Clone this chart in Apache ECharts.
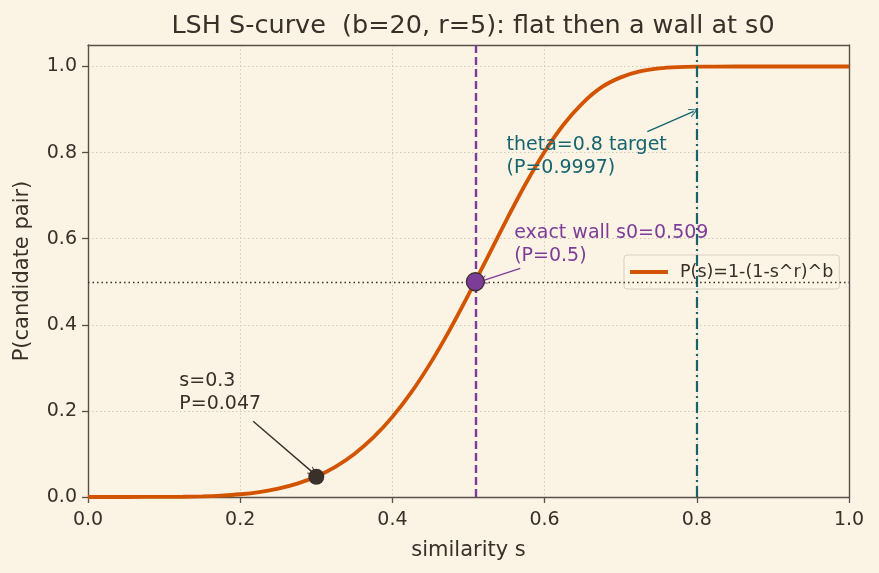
<!DOCTYPE html>
<html><head><meta charset="utf-8">
<script src="https://cdn.jsdelivr.net/npm/echarts@6/dist/echarts.min.js"></script>
<style>html,body{margin:0;padding:0;background:#fbf3e4;}#c{width:879px;height:573px;}</style>
</head><body><div id="c"></div>
<script>
// similarity s values and the curve P(s)
const sVals = [0,0.05,0.1,0.125,0.15,0.175,0.2,0.225,0.25,0.275,0.3,0.325,0.35,0.375,0.4,0.425,0.45,0.475,0.5,0.525,0.55,0.575,0.6,0.625,0.65,0.675,0.7,0.725,0.75,0.775,0.8,0.85,0.9,0.95,1.0];
const pVals = [0,0.00001,0.0002,0.0006,0.0015,0.0033,0.0064,0.0115,0.0194,0.031,0.0475,0.0701,0.1,0.1383,0.1861,0.2436,0.311,0.3871,0.4701,0.5569,0.644,0.727,0.8019,0.8653,0.9152,0.9521,0.9748,0.9886,0.9956,0.9986,0.9996,1.0,1.0,1.0,1.0];
const xTicks = [0,0.2,0.4,0.6,0.8,1.0];
const yTicks = [0,0.2,0.4,0.6,0.8,1.0];
const wallS = 0.509, wallP = 0.5;
const thetaS = 0.8;
const sampleS = 0.3, sampleP = 0.047;
const legendName = 'P(s)=1-(1-s^r)^b';

const F = 'DejaVu Sans';
const TXT = '#3a3028';
const ORANGE = '#d35400';
const PURPLE = '#7d3c98';
const TEAL = '#16646e';
const FRAME = '#5a5048';
const GRIDC = '#d3cab9';
const CHEVRON = 'path://M5,0 L10,10 L8.8,10 L5,2.4 L1.2,10 L0,10 Z';

const curve = sVals.map((s,i)=>[s,pVals[i]]);
const chart = echarts.init(document.getElementById('c'));

function arrowLine(from,to,color){
  return [{coord:from, lineStyle:{color:color,width:1.4,type:'solid'},itemStyle:{color:color}},{coord:to}];
}
const tickFmt = (arr)=>v=>arr.some(t=>Math.abs(t-v)<1e-9)?v.toFixed(1):'';

chart.setOption({
  backgroundColor:'#fbf3e4',
  animation:false,
  title:{text:'LSH S-curve  (b=20, r=5): flat then a wall at s0',left:468,textAlign:'center',top:8,
    textStyle:{fontFamily:F,fontSize:25.5,fontWeight:'normal',color:TXT}},
  grid:{left:88,right:30,top:45,bottom:76},
  legend:{data:[{name:legendName,icon:'rect'}],left:624,top:255,orient:'vertical',
    backgroundColor:'rgba(251,243,228,0.85)',borderColor:'#d8cfc0',borderWidth:1,borderRadius:3,
    padding:[8,6,8,6],itemWidth:38,itemHeight:4,itemGap:4,
    itemStyle:{color:ORANGE},
    textStyle:{fontFamily:F,fontSize:17.5,color:TXT,padding:[0,0,0,7]}},
  xAxis:[{type:'value',min:0,max:1,interval:0.2,position:'bottom',
    name:'similarity s',nameLocation:'middle',nameGap:43,
    nameTextStyle:{fontFamily:F,fontSize:21,color:TXT},
    axisLine:{show:true,lineStyle:{color:FRAME,width:1.4}},
    axisTick:{show:true,length:6,lineStyle:{color:FRAME,width:1.3}},
    axisLabel:{fontFamily:F,fontSize:19,color:TXT,margin:14,formatter:tickFmt(xTicks)},
    splitLine:{show:true,lineStyle:{color:GRIDC,type:[1.5,2.5],width:1}}},
   {type:'value',min:0,max:1,position:'top',
    axisLine:{show:true,onZero:false,lineStyle:{color:FRAME,width:1.4}},
    axisTick:{show:false},axisLabel:{show:false},splitLine:{show:false}}],
  yAxis:[{type:'value',min:0,max:1.05,interval:0.2,position:'left',
    name:'P(candidate pair)',nameLocation:'middle',nameGap:55,
    nameTextStyle:{fontFamily:F,fontSize:21,color:TXT},
    axisLine:{show:true,onZero:false,lineStyle:{color:FRAME,width:1.4}},
    axisTick:{show:true,length:6,lineStyle:{color:FRAME,width:1.3}},
    axisLabel:{fontFamily:F,fontSize:19,color:TXT,margin:11,showMaxLabel:false,formatter:tickFmt(yTicks)},
    splitLine:{show:true,lineStyle:{color:GRIDC,type:[1.5,2.5],width:1}}},
   {type:'value',min:0,max:1.05,position:'right',
    axisLine:{show:true,onZero:false,lineStyle:{color:FRAME,width:1.4}},
    axisTick:{show:false},axisLabel:{show:false},splitLine:{show:false}}],
  series:[
    {type:'line',name:'refs',data:[],silent:true,z:1,
      markLine:{silent:true,symbol:'none',label:{show:false},animation:false,
        data:[
          {xAxis:wallS,lineStyle:{color:PURPLE,type:[8,4],width:2.4}},
          {xAxis:thetaS,lineStyle:{color:TEAL,type:[11,4,2,4],width:2.2}},
          {yAxis:wallP,lineStyle:{color:TXT,type:[1.5,3],width:1.3}}
        ]}},
    {type:'line',name:legendName,data:curve,smooth:0.3,showSymbol:false,symbol:'none',z:3,
      lineStyle:{color:ORANGE,width:3.8},itemStyle:{color:ORANGE}},
    {type:'line',name:'arrows',data:[],silent:true,z:4,
      markLine:{silent:true,symbol:['none',CHEVRON],symbolSize:[9,9],label:{show:false},animation:false,
        data:[
          arrowLine([0.217,0.176],[0.296,0.056],TXT),
          arrowLine([0.568,0.531],[0.518,0.502],PURPLE),
          arrowLine([0.735,0.849],[0.796,0.896],TEAL)
        ]}},
    {type:'scatter',name:'pts',data:[[sampleS,sampleP]],symbolSize:16,z:5,
      itemStyle:{color:'#3a302a',opacity:1}},
    {type:'scatter',name:'wall',data:[[wallS,wallP]],symbolSize:18,z:5,
      itemStyle:{color:PURPLE,borderColor:'#3a302a',borderWidth:1.3,opacity:1}}
  ]
});

function px(p){return chart.convertToPixel({gridIndex:0},p);}
const notes = [
  {at:[0.12,0.2], text:'s=0.3\nP=0.047', color:TXT},
  {at:[0.56,0.545], text:'exact wall s0=0.509\n(P=0.5)', color:PURPLE},
  {at:[0.55,0.75], text:'theta=0.8 target\n(P=0.9997)', color:TEAL}
];
chart.setOption({graphic:notes.map(n=>{const p=px(n.at);return {type:'text',x:p[0],y:p[1]+5,z:10,
  style:{text:n.text,fill:n.color,font:'19px "DejaVu Sans"',lineHeight:23,align:'left',verticalAlign:'bottom'}};})});
</script></body></html>
